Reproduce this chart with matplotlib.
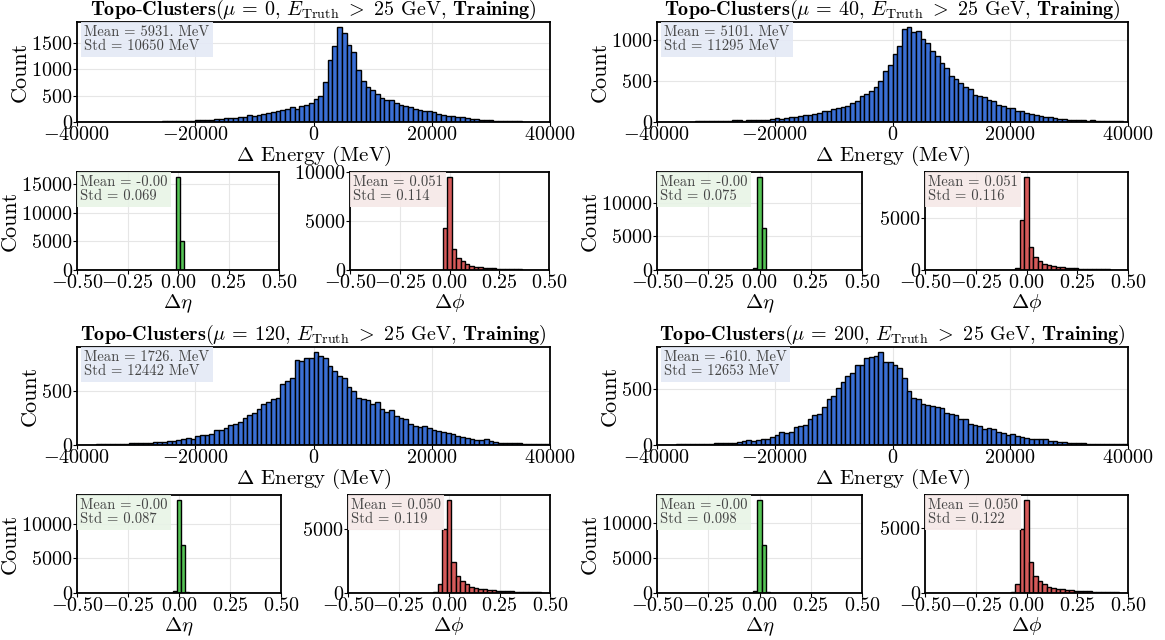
import matplotlib
matplotlib.use("Agg")
import matplotlib.pyplot as plt
from matplotlib.ticker import MultipleLocator
import numpy as np

plt.rcParams["font.family"] = "serif"
plt.rcParams["font.serif"] = ["cmr10"]
plt.rcParams["mathtext.fontset"] = "cm"
plt.rcParams["axes.formatter.use_mathtext"] = True
plt.rcParams["axes.unicode_minus"] = True

# ---- data ----
mu_values = [0, 40, 120, 200]
energy_edges = np.linspace(-40000, 40000, 101)
eta_edges = np.linspace(-0.51, 0.51, 52)
phi_edges = np.linspace(-0.5, 0.5, 46)

energy_mu0 = [1, 1, 1, 2, 2, 2, 2, 3, 3, 3, 4, 4, 5, 5, 6, 7, 8, 9, 10, 12,
              14, 16, 18, 22, 25, 40, 35, 40, 45, 50, 60, 70, 70, 85, 100, 100, 130, 110, 130, 150,
              170, 195, 200, 220, 240, 280, 250, 300, 330, 360,
              430, 500, 760, 1180, 1430, 1800, 1690, 1450, 1320, 975, 780, 660, 600, 520, 460, 420, 420, 360, 330, 300,
              290, 250, 230, 200, 200, 180, 150, 130, 120, 110, 100, 90, 70, 60, 50, 45, 40, 30, 28, 22,
              18, 15, 12, 10, 8, 6, 5, 4, 3, 2]
energy_mu40 = [2, 2, 3, 3, 4, 5, 5, 6, 7, 8, 8, 10, 10, 12, 14, 15, 20, 25, 18, 22,
               20, 25, 30, 30, 35, 45, 40, 45, 55, 60, 75, 80, 90, 100, 110, 130, 140, 160, 170, 180,
               200, 230, 260, 320, 340, 380, 430, 500, 620, 700,
               830, 930, 1130, 1160, 1100, 1110, 1010, 960, 870, 800, 720, 660, 560, 520, 470, 430, 400, 330, 320, 310,
               270, 250, 210, 190, 175, 165, 140, 130, 115, 100, 90, 75, 60, 55, 45, 40, 35, 30, 22, 30,
               25, 15, 22, 15, 10, 12, 10, 8, 10, 6]
energy_mu120 = [2, 3, 3, 4, 5, 5, 6, 7, 8, 10, 12, 14, 15, 18, 20, 20, 25, 30, 30, 35,
                40, 50, 55, 65, 60, 80, 90, 95, 100, 140, 140, 160, 190, 200, 215, 250, 280, 300, 340, 380,
                400, 430, 440, 570, 600, 620, 790, 780, 810, 810,
                870, 830, 810, 740, 690, 640, 620, 540, 500, 440, 430, 420, 380, 400, 340, 310, 330, 270, 250, 240,
                200, 180, 170, 175, 160, 140, 130, 120, 110, 100, 80, 75, 65, 55, 50, 45, 55, 35, 25, 22,
                20, 18, 15, 14, 12, 10, 10, 8, 6, 5]
energy_mu200 = [2, 3, 3, 4, 5, 6, 10, 8, 8, 10, 10, 12, 18, 15, 18, 20, 20, 30, 40, 45,
                40, 45, 50, 55, 70, 90, 120, 110, 120, 160, 170, 180, 230, 270, 280, 340, 410, 440, 510, 570,
                620, 650, 720, 720, 785, 790, 800, 840, 750, 750,
                720, 690, 600, 490, 420, 410, 370, 360, 350, 340, 330, 290, 280, 270, 230, 230, 190, 180, 170, 140,
                150, 140, 120, 110, 90, 100, 80, 75, 60, 55, 50, 50, 50, 40, 35, 30, 25, 20, 20, 18,
                15, 12, 12, 10, 10, 8, 8, 6, 10, 5]

eta_mu0 = [0] * 25 + [16300, 5100] + [0] * 24
eta_mu40 = [0] * 24 + [300, 13900, 6200] + [0] * 24
eta_mu120 = [0] * 24 + [300, 13500, 7000, 200] + [0] * 23
eta_mu200 = [0] * 24 + [300, 13300, 6800, 150] + [0] * 23

phi_mu0 = [0] * 18 + [10, 20, 50, 4300, 9560, 2150, 1250, 900, 650, 450, 350, 280, 230, 200,
                      170, 150, 130, 110, 90, 70, 60, 50, 40, 30, 25, 20, 15]
phi_mu40 = [0] * 18 + [10, 30, 150, 4800, 8900, 2200, 1200, 850, 600, 450, 350, 300, 250, 210,
                       180, 160, 140, 120, 100, 80, 70, 60, 50, 40, 30, 25, 20]
phi_mu120 = [0] * 18 + [20, 50, 700, 5000, 7300, 2400, 1300, 900, 700, 500, 400, 330, 280, 240,
                        200, 180, 160, 140, 120, 100, 80, 70, 60, 50, 40, 30, 25]
phi_mu200 = [0] * 18 + [30, 80, 700, 4900, 7200, 2400, 1300, 900, 700, 500, 400, 330, 280, 240,
                        210, 190, 170, 150, 130, 110, 90, 75, 60, 50, 40, 30, 25]

energy_stats = [("5931.", "10650"), ("5101.", "11295"), ("1726.", "12442"), ("-610.", "12653")]
eta_stats = [("-0.00", "0.069"), ("-0.00", "0.075"), ("-0.00", "0.087"), ("-0.00", "0.098")]
phi_stats = [("0.051", "0.114"), ("0.051", "0.116"), ("0.050", "0.119"), ("0.050", "0.122")]

energy_counts = [energy_mu0, energy_mu40, energy_mu120, energy_mu200]
eta_counts = [eta_mu0, eta_mu40, eta_mu120, eta_mu200]
phi_counts = [phi_mu0, phi_mu40, phi_mu120, phi_mu200]

W, H = 1165, 640
fig = plt.figure(figsize=(W / 100, H / 100), dpi=100)


def px_axes(l, t, r, b):
    return fig.add_axes([l / W, 1 - b / H, (r - l) / W, (b - t) / H])


def draw_hist(ax, edges, counts, color, ystep):
    edges = np.asarray(edges)
    ax.bar(edges[:-1], counts, width=np.diff(edges), align="edge", color=color,
           edgecolor="black", linewidth=1.0, zorder=2)
    ax.grid(True, color="#e6e6e6", linewidth=0.8, zorder=0)
    ax.set_axisbelow(True)
    for s in ax.spines.values():
        s.set_linewidth(1.3)
    ax.tick_params(labelsize=14.5, length=3, pad=0)
    ax.yaxis.set_major_locator(MultipleLocator(ystep))
    ax.set_ylim(bottom=0)


def stat_box(ax, mean, std, face, unit=""):
    ax.text(0.015, 0.965, f"Mean = {mean}{unit}\nStd = {std}{unit}", transform=ax.transAxes,
            va="top", ha="left", fontsize=10.5, color="#444444", linespacing=1.05,
            bbox=dict(boxstyle="square,pad=0.22", facecolor=face, edgecolor="none", alpha=0.9),
            zorder=5)


# quadrant layout in pixels: (energy rect, eta rect, phi rect)
layout = [
    ((77, 22, 550, 122), (77, 172, 279, 270), (350, 172, 549, 270)),
    ((657, 22, 1128, 122), (657, 172, 862, 270), (925, 172, 1128, 270)),
    ((77, 347, 550, 445), (77, 495, 281, 593), (348, 495, 550, 593)),
    ((657, 347, 1128, 445), (657, 495, 862, 593), (925, 495, 1128, 593)),
]

for i, mu in enumerate(mu_values):
    r_e, r_eta, r_phi = layout[i]

    ax = px_axes(*r_e)
    draw_hist(ax, energy_edges, energy_counts[i], "#3a6fd6", 500)
    ax.set_xlim(-40000, 40000)
    ax.set_xticks([-40000, -20000, 0, 20000, 40000])
    ax.set_ylabel("Count", fontsize=16, labelpad=1)
    ax.set_xlabel(r"$\Delta$ Energy (MeV)", fontsize=15, labelpad=0)
    ax.set_title(r"$\mathbf{Topo}$-$\mathbf{Clusters}$($\mu$ = %d, $E_{\rm Truth}\ >\ 25$ GeV, $\mathbf{Training}$)" % mu,
                 fontsize=14.5, pad=2)
    stat_box(ax, energy_stats[i][0], energy_stats[i][1], "#e4e9f6", unit=" MeV")

    ax = px_axes(*r_eta)
    draw_hist(ax, eta_edges, eta_counts[i], "#55c455", 5000)
    ax.set_xlim(-0.5, 0.5)
    ax.set_xticks([-0.5, -0.25, 0, 0.25, 0.5])
    ax.set_ylabel("Count", fontsize=16, labelpad=1)
    ax.set_xlabel(r"$\Delta\eta$", fontsize=15, labelpad=0)
    stat_box(ax, eta_stats[i][0], eta_stats[i][1], "#e8f4e6")

    ax = px_axes(*r_phi)
    draw_hist(ax, phi_edges, phi_counts[i], "#d65a5a", 5000)
    ax.set_xlim(-0.5, 0.5)
    ax.set_xticks([-0.5, -0.25, 0, 0.25, 0.5])
    ax.set_xlabel(r"$\Delta\phi$", fontsize=15, labelpad=0)
    stat_box(ax, phi_stats[i][0], phi_stats[i][1], "#f6e8e7")

fig.savefig("out.png", dpi=100)
